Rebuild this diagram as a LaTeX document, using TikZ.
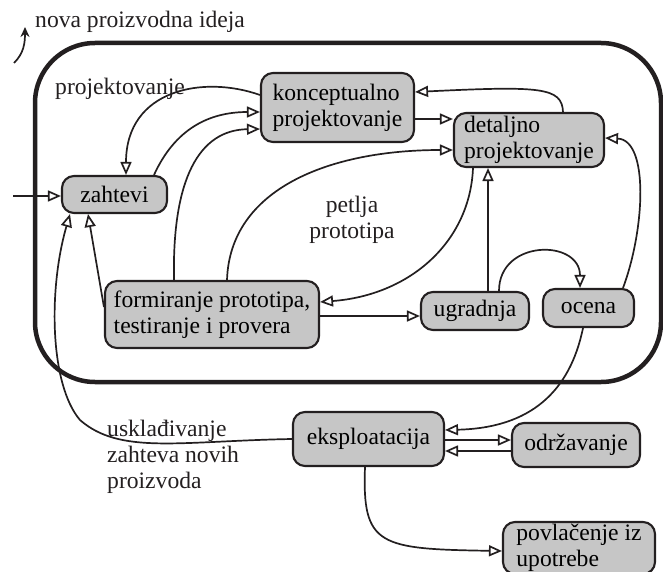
\documentclass[tikz,border=0pt]{standalone}
\usepackage{fontspec}
\setmainfont{Liberation Serif}
\usetikzlibrary{arrows.meta}
\definecolor{blkfill}{HTML}{C6C6C6}
\definecolor{blkline}{HTML}{231F20}
\tikzstyle{blk}=[draw=blkline, fill=blkfill, line width=2.1pt, rounded corners=12pt,
		inner sep=0pt, align=left]
\tikzstyle{lbl}=[inner sep=0pt, align=left, text=blkline]
\tikzstyle{ln}=[draw=blkline, line width=1.7pt,
		-{Triangle[open, length=13pt, width=11pt]}]
\tikzstyle{frm}=[draw=blkline, line width=4.5pt, rounded corners=60pt]

\begin{document}
\begin{tikzpicture}[font=\fontsize{23.6}{26}\selectfont]
	\useasboundingbox (0,0) rectangle (663pt,-572pt);
	\tikzset{x=1pt, y=1pt}
	% outer loop
	\draw[frm] (35,-43) rectangle (661,-382);
	% blocks
	\node[blk, minimum width=153pt, minimum height=69pt] (konc) at (337.5,-107.5) {konceptualno\\projektovanje};
	\node[blk, minimum width=150pt, minimum height=54pt] (detalj) at (529,-140) {detaljno\\projektovanje};
	\node[blk, minimum width=105pt, minimum height=37pt] (zahtevi) at (114.5,-194.5) {zahtevi};
	\node[blk, minimum width=214pt, minimum height=67pt] (form) at (212,-314.5) {formiranje prototipa,\\testiranje i provera};
	\node[blk, minimum width=108pt, minimum height=38pt] (ugr) at (475,-311) {ugradnja};
	\node[blk, minimum width=91pt, minimum height=38pt] (ocena) at (588.5,-308) {ocena};
	\node[blk, minimum width=151pt, minimum height=54pt] (eksp) at (368.5,-439) {eksploatacija};
	\node[blk, minimum width=128pt, minimum height=44pt] (odrz) at (576,-445) {održavanje};
	\node[blk, minimum width=152pt, minimum height=52pt] (povl) at (579,-548) {povlačenje iz\\upotrebe};
	% free labels
	\node[lbl, anchor=base west] (ideja) at (35,-28) {nova proizvodna ideja};
	\node[lbl, anchor=base west] (projlbl) at (55,-95) {projektovanje};
	\node[lbl, align=center] (petlja) at (352,-220) {petlja\\prototipa};
	\node[lbl, anchor=west] (uskl) at (107,-457) {usklađivanje\\zahteva novih\\proizvoda};
	\coordinate (ideja0) at (14,-63);
	\coordinate (ideja1) at (25,-27);
	\coordinate (ulaz) at (13,-196);

	\draw[draw=blkline, line width=1.7pt, -{Stealth[length=10pt, width=9pt]}]
		(ideja0) .. controls +(10,10) and +(0,-16) .. (ideja1);
	\draw[ln] (ulaz) -- ([yshift=-1.5]zahtevi.west);
	% projektovanje
	\draw[ln] ([yshift=12.5]konc.west) .. controls +(-56,20) and +(0,86) .. ([xshift=11.5]zahtevi.north);
	\draw[ln] ([xshift=39.5]zahtevi.north) .. controls +(21,46) and +(-51,0) .. ([yshift=-4.5]konc.west);
	\draw[ln] ([xshift=-38]form.north) .. controls +(-2,101) and +(-61,-1) .. ([yshift=-21.5]konc.west);
	\draw[ln] ([yshift=-11.5]konc.east) -- ([yshift=21]detalj.west);
	\draw[ln] ([xshift=34]detalj.north) .. controls +(-1,25) and +(125,6) .. ([yshift=15.5]konc.east);
	% petlja prototipa
	\draw[ln] ([xshift=15]form.north) .. controls +(3,91) and +(-124,0) .. ([yshift=-10]detalj.west);
	\draw[ln] ([xshift=-56]detalj.south) .. controls +(-3,-73) and +(91,7) .. ([yshift=12.5]form.east);
	\draw[ln] ([yshift=-1.5]form.east) -- ([yshift=-5]ugr.west);
	\draw[ln] ([xshift=13]ugr.north) -- ([xshift=-41]detalj.south);
	\draw[ln] ([xshift=24]ugr.north) .. controls +(0,52) and +(0,49) .. ([xshift=-8.5]ocena.north);
	\draw[ln] ([xshift=34.5]ocena.north) .. controls +(22,59) and +(44,-2) .. ([yshift=2]detalj.east);
	\draw[ln] ([yshift=7.5]form.west) -- ([xshift=-26.5]zahtevi.south);
	% eksploatacija
	\draw[ln] ([xshift=-5.5]ocena.south) .. controls +(-13,-63) and +(86,2) .. ([yshift=9]eksp.east);
	\draw[ln] ([yshift=-1]eksp.east) -- ([yshift=5]odrz.west);
	\draw[ln] ([yshift=-6]odrz.west) -- ([yshift=-12]eksp.east);
	\draw[ln] ([xshift=-3.5]eksp.south) .. controls +(-3,-79) and +(-123,2) .. ([yshift=-3]povl.west);
	\draw[ln] (eksp.west) .. controls (180,-441) and (120,-455) .. (80,-420)
		.. controls (50,-385) and (48,-290) .. ([xshift=-44.5]zahtevi.south);
\end{tikzpicture}
\end{document}
